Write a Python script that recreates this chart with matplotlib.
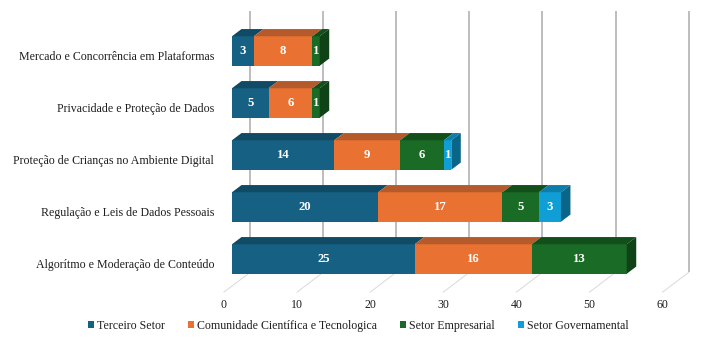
import matplotlib
matplotlib.use("Agg")
import matplotlib.pyplot as plt
from matplotlib.patches import Polygon, Rectangle, Patch

# Topics (bottom to top) and counts per sector
categories = [
    "Algorítmo e Moderação de Conteúdo",
    "Regulação e Leis de Dados Pessoais",
    "Proteção de Crianças no Ambiente Digital",
    "Privacidade e Proteção de Dados",
    "Mercado e Concorrência em Plataformas",
]
series_names = [
    "Terceiro Setor",
    "Comunidade Científica e Tecnologica",
    "Setor Empresarial",
    "Setor Governamental",
]
terceiro = [25, 20, 14, 5, 3]
comunidade = [16, 17, 9, 6, 8]
empresarial = [13, 5, 6, 1, 1]
governamental = [0, 3, 1, 0, 0]
x_ticks = [0, 10, 20, 30, 40, 50, 60]

series = [terceiro, comunidade, empresarial, governamental]
front_colors = ["#166083", "#E97132", "#1A6B25", "#109ED6"]
top_colors = ["#114A64", "#B55A2A", "#134F1B", "#0C7EA9"]
side_colors = ["#0D3B50", "#8F4520", "#0F4216", "#0A6689"]

plt.rcParams["font.family"] = ["Liberation Serif", "DejaVu Serif"]
text_color = "#1e1e1e"

W, H = 710, 340
fig = plt.figure(figsize=(W / 100, H / 100), dpi=100)
ax = fig.add_axes([0, 0, 1, 1])
px_per_unit = 7.31
row_px = 52.0
x_front0 = 232.0
y_row0 = 259.0
ax.set_xlim((0 - x_front0) / px_per_unit, (W - x_front0) / px_per_unit)
ax.set_ylim((y_row0 - H) / row_px, y_row0 / row_px)
ax.axis("off")

# depth direction of the 3-D projection, per unit depth
DX = 9.5 / px_per_unit
DY = 7.2 / row_px
bar_h = 29.5 / row_px
floor_y = -0.52
wall_top = 4.5
d_front, d_back = -0.85, 1.9

# back wall gridlines and floor lines
for v in x_ticks:
    xb = v + d_back * DX
    ax.plot([xb, xb], [floor_y + d_back * DY, wall_top + d_back * DY],
            color="#bdbdbd", lw=1.4, solid_capstyle="butt", zorder=1)
    ax.plot([v + d_front * DX, xb],
            [floor_y + d_front * DY, floor_y + d_back * DY],
            color="#d9d9d9", lw=0.7, zorder=1)
    ax.text(v + d_front * DX, floor_y + d_front * DY - 13 / row_px, str(v),
            ha="center", va="center", fontsize=8.6, color=text_color)

# stacked 3-D bars
for i, cat in enumerate(categories):
    y0 = i - bar_h / 2
    y1 = i + bar_h / 2
    left = 0
    segs = [(k, s[i]) for k, s in enumerate(series) if s[i] > 0]
    for n, (k, val) in enumerate(segs):
        x0, x1 = left, left + val
        ax.add_patch(Rectangle((x0, y0), val, bar_h, facecolor=front_colors[k],
                               edgecolor="none", zorder=3))
        ax.add_patch(Polygon([(x0, y1), (x1, y1), (x1 + DX, y1 + DY),
                              (x0 + DX, y1 + DY)], closed=True,
                             facecolor=top_colors[k], edgecolor="none", zorder=3))
        if n == len(segs) - 1:
            ax.add_patch(Polygon([(x1, y0), (x1, y1), (x1 + DX, y1 + DY),
                                  (x1 + DX, y0 + DY)], closed=True,
                                 facecolor=side_colors[k], edgecolor="none",
                                 zorder=3))
        ax.text((x0 + x1) / 2, i, str(val), ha="center", va="center",
                fontsize=9.2, fontweight="bold", color="white", zorder=4)
        left = x1
    ax.text((214 - x_front0) / px_per_unit, i - 6 / row_px, cat,
            ha="right", va="center", fontsize=8.6, color=text_color)

handles = [Patch(facecolor=c, edgecolor="none") for c in front_colors]
fig.legend(handles, series_names, loc="center",
           bbox_to_anchor=(358.5 / W, 1 - 326 / H), ncol=4, frameon=False,
           fontsize=8.6, handlelength=0.5, handleheight=0.5,
           handletextpad=0.25, columnspacing=1.95, labelcolor=text_color)

fig.savefig("out.png", dpi=100)
